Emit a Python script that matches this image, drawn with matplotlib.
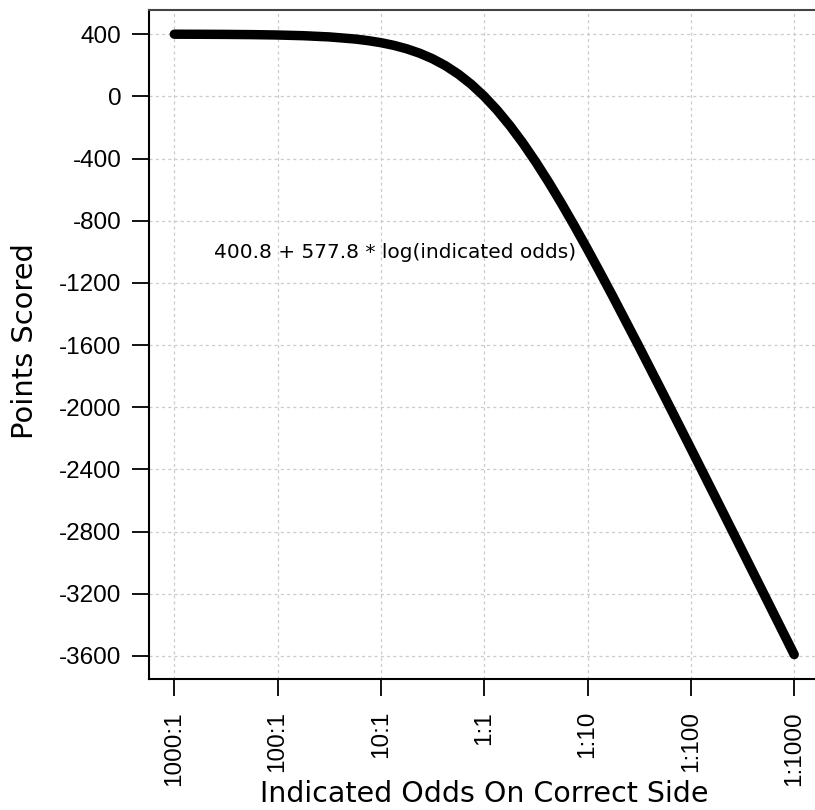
import matplotlib
matplotlib.use("Agg")
import matplotlib.pyplot as plt

# log10 of odds against (1000:1 -> -3 ... 1:1000 -> 3)
log_odds = [-3.0, -2.75, -2.5, -2.25, -2.0, -1.75, -1.5, -1.25, -1.125, -1.0, -0.875, -0.75,
            -0.625, -0.5, -0.375, -0.25, -0.125, 0.0, 0.125, 0.25, 0.375, 0.5, 0.625, 0.75,
            0.875, 1.0, 1.125, 1.25, 1.5, 1.75, 2.0, 2.25, 2.5, 2.75, 3.0]
points = [400.2, 399.8, 399.0, 397.6, 395.1, 390.6, 382.8, 369.2, 359.0, 345.7, 328.5, 306.2,
          277.8, 242.1, 197.5, 143.0, 77.5, 0.3, -88.8, -189.6, -301.4, -423.2, -553.7, -691.6,
          -835.7, -984.7, -1137.8, -1293.8, -1612.8, -1937.6, -2265.8, -2595.9,
          -2927.1, -3259.0, -3591.0]

tick_pos = [-3, -2, -1, 0, 1, 2, 3]
tick_labels = ["1000:1", "100:1", "10:1", "1:1", "1:10", "1:100", "1:1000"]
y_ticks = [400, 0, -400, -800, -1200, -1600, -2000, -2400, -2800, -3200, -3600]
annotation = "400.8 + 577.8 * log(indicated odds)"

plt.rcParams['font.family'] = ['Liberation Sans', 'DejaVu Sans']

W, H = 815, 810
fig = plt.figure(figsize=(W / 100, H / 100), dpi=100)
ax = fig.add_axes([149.3 / W, 1 - 679 / H, 1.01 - 149.3 / W, (679 - 10) / H])

ax.plot(log_odds, points, color='black', lw=6.8, solid_capstyle='round',
        solid_joinstyle='round', zorder=3)

ax.set_xlim(-3.242, 3.28)
ax.set_ylim(-3748, 556)
ax.set_xticks(tick_pos)
ax.set_xticklabels(tick_labels, rotation=90)
ax.set_yticks(y_ticks)
ax.set_yticklabels([str(v) for v in y_ticks])

ax.grid(True, color='#cccccc', linestyle=(0, (2.5, 2.5)), linewidth=0.9)
ax.set_axisbelow(True)

for s in ['left', 'bottom']:
    ax.spines[s].set_linewidth(1.5)
    ax.spines[s].set_color('black')
ax.spines['top'].set_color('#444444')
ax.spines['top'].set_linewidth(1.5)
ax.spines['right'].set_visible(False)

ax.tick_params(axis='both', direction='out', length=12, width=1.3, labelsize=17.5,
               color='black')
ax.tick_params(axis='y', pad=8)
ax.tick_params(axis='x', pad=11)

fig.text(484 / W, 1 - 794 / H, "Indicated Odds On Correct Side", fontsize=20.5,
         family='DejaVu Sans', ha='center', va='center')
fig.text(25 / W, 1 - 341.5 / H, "Points Scored", fontsize=20.8, family='DejaVu Sans',
         rotation=90, ha='center', va='center')

ax.text(-2.616, -1001, annotation, fontsize=14.5, family='DejaVu Sans', va='center', ha='left')

fig.savefig("out.png", dpi=100)
